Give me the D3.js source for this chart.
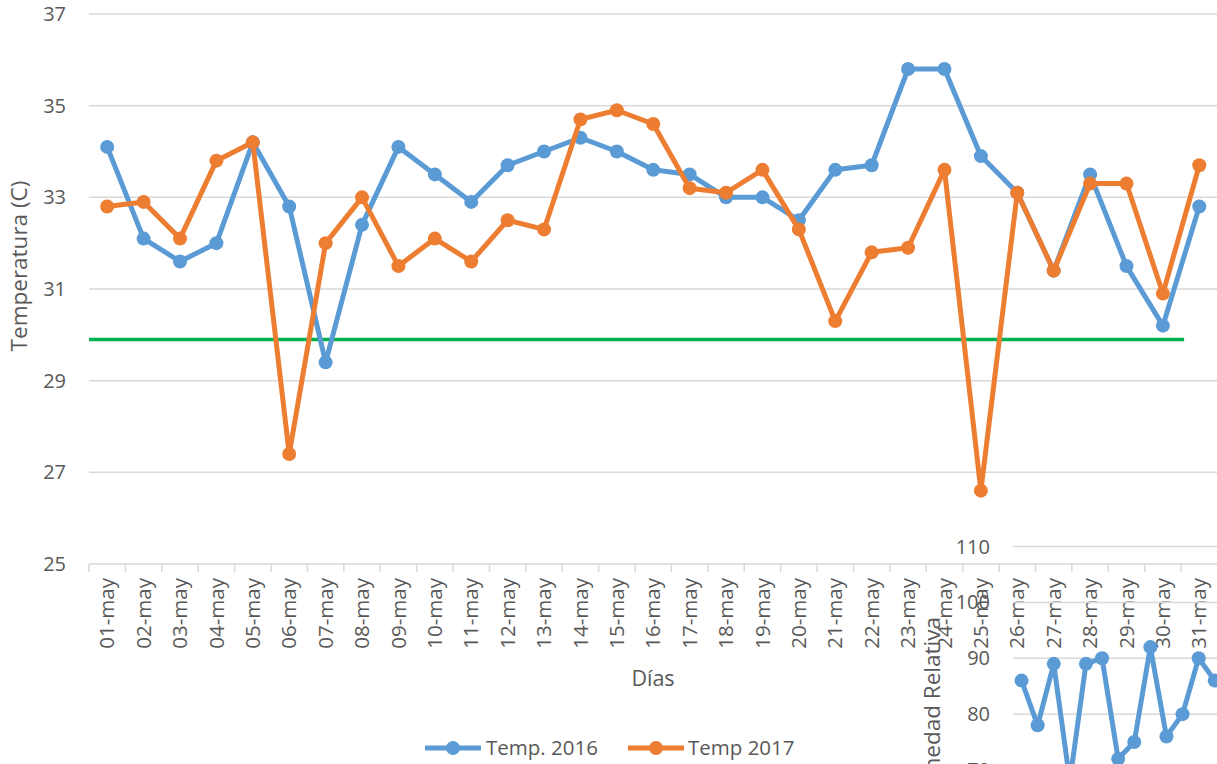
<!DOCTYPE html>
<html><head><meta charset="utf-8">
<script src="https://cdn.jsdelivr.net/npm/d3@7"></script>
<style>
html,body{margin:0;padding:0;background:#fff;}
svg{display:block;font-family:"Open Sans",sans-serif;}
</style></head>
<body><svg id="c" width="1217" height="764"></svg>
<script>
const days = ["01-may","02-may","03-may","04-may","05-may","06-may","07-may","08-may","09-may","10-may","11-may","12-may","13-may","14-may","15-may","16-may","17-may","18-may","19-may","20-may","21-may","22-may","23-may","24-may","25-may","26-may","27-may","28-may","29-may","30-may","31-may"];
const temp2016 = [34.1,32.1,31.6,32.0,34.2,32.8,29.4,32.4,34.1,33.5,32.9,33.7,34.0,34.3,34.0,33.6,33.5,33.0,33.0,32.5,33.6,33.7,35.8,35.8,33.9,33.1,31.4,33.5,31.5,30.2,32.8];
const temp2017 = [32.8,32.9,32.1,33.8,34.2,27.4,32.0,33.0,31.5,32.1,31.6,32.5,32.3,34.7,34.9,34.6,33.2,33.1,33.6,32.3,30.3,31.8,31.9,33.6,26.6,33.1,31.4,33.3,33.3,30.9,33.7];
const threshold = 29.9;
const yTicks = [25,27,29,31,33,35,37];
const seriesNames = ["Temp. 2016","Temp 2017"];
// overlapping fragment of a second chart (Humedad Relativa)
const humDays = days.slice(0,13);
const humidity = [86,78,89,68,89,90,72,75,92,76,80,90,86];
const humTicks = [70,80,90,100,110];

const colors = ["#5B9BD5","#ED7D31"];
const textCol = "#595959", gridCol = "#D9D9D9";
const svg = d3.select("#c");
svg.append("rect").attr("width",1217).attr("height",764).attr("fill","#fff");

const x = d3.scaleBand().domain(days).range([89,1217.5]).padding(0);
const y = d3.scaleLinear().domain([25,37]).range([564,14]);

// gridlines
svg.append("g").selectAll("line").data(yTicks.filter(d=>d>25)).join("line")
  .attr("x1",89).attr("x2",1217).attr("y1",d=>y(d)).attr("y2",d=>y(d))
  .attr("stroke",gridCol).attr("stroke-width",1.5);
// y labels
svg.append("g").selectAll("text").data(yTicks).join("text")
  .attr("x",66).attr("y",d=>y(d)).attr("dy","0.35em").attr("text-anchor","end")
  .attr("font-size",20).attr("fill",textCol).text(d=>d);
// x axis
svg.append("line").attr("x1",89).attr("x2",1217).attr("y1",564).attr("y2",564).attr("stroke",gridCol).attr("stroke-width",1.5);
svg.append("g").selectAll("line").data(days).join("line")
  .attr("x1",d=>x(d)).attr("x2",d=>x(d)).attr("y1",564).attr("y2",572)
  .attr("stroke",gridCol).attr("stroke-width",1.5);
svg.append("g").selectAll("text").data(days).join("text")
  .attr("transform",d=>`translate(${x(d)+x.bandwidth()/2},578) rotate(-90)`)
  .attr("dy","0.35em").attr("text-anchor","end").attr("font-size",20.5).attr("fill",textCol).text(d=>d);
// titles
svg.append("text").attr("transform","translate(27,266) rotate(-90)").attr("text-anchor","middle")
  .attr("font-size",22.5).attr("fill",textCol).text("Temperatura (C)");
svg.append("text").attr("x",653).attr("y",686).attr("text-anchor","middle")
  .attr("font-size",21.5).attr("fill",textCol).text("Días");

// threshold line
svg.append("line").attr("x1",89).attr("x2",x("31-may")+3).attr("y1",y(threshold)).attr("y2",y(threshold))
  .attr("stroke","#00B050").attr("stroke-width",3.5);

// series
const line = d3.line().x((d,i)=>x(days[i])+x.bandwidth()/2).y(d=>y(d));
[temp2016,temp2017].forEach((s,k)=>{
  const g = svg.append("g");
  g.append("path").attr("d",line(s)).attr("fill","none").attr("stroke",colors[k]).attr("stroke-width",5).attr("stroke-linejoin","round");
  g.selectAll("circle").data(s).join("circle").attr("cx",(d,i)=>x(days[i])+x.bandwidth()/2).attr("cy",d=>y(d)).attr("r",7).attr("fill",colors[k]);
});

// legend
const leg = [{x0:425,text:486},{x0:628,text:688}];
leg.forEach((l,k)=>{
  svg.append("line").attr("x1",l.x0).attr("x2",l.x0+56).attr("y1",748).attr("y2",748).attr("stroke",colors[k]).attr("stroke-width",5);
  svg.append("circle").attr("cx",l.x0+28).attr("cy",748).attr("r",7).attr("fill",colors[k]);
  svg.append("text").attr("x",l.text).attr("y",748).attr("dy","0.35em").attr("font-size",20.5).attr("fill",textCol).text(seriesNames[k]);
});

// overlapping humidity chart fragment
const hx = d3.scaleBand().domain(humDays).range([1013.5,1013.5+16.1*13]).padding(0);
const hy = d3.scaleLinear().domain([70,110]).range([770,546.5]);
const hg = svg.append("g");
hg.selectAll("line").data(humTicks).join("line")
  .attr("x1",1013).attr("x2",1217).attr("y1",d=>hy(d)).attr("y2",d=>hy(d)).attr("stroke",gridCol).attr("stroke-width",1.5);
hg.selectAll("text.t").data(humTicks).join("text").attr("class","t")
  .attr("x",990).attr("y",d=>hy(d)).attr("dy","0.35em").attr("text-anchor","end")
  .attr("font-size",20).attr("fill",textCol).text(d=>d);
hg.append("text").attr("transform","translate(932,617) rotate(-90)").attr("dy","0.35em").attr("text-anchor","end")
  .attr("font-size",22.5).attr("fill",textCol).text("Humedad Relativa");
const hline = d3.line().x((d,i)=>hx(humDays[i])+hx.bandwidth()/2).y(d=>hy(d));
hg.append("path").attr("d",hline(humidity)).attr("fill","none").attr("stroke",colors[0]).attr("stroke-width",5).attr("stroke-linejoin","round");
hg.selectAll("circle").data(humidity).join("circle").attr("cx",(d,i)=>hx(humDays[i])+hx.bandwidth()/2).attr("cy",d=>hy(d)).attr("r",7).attr("fill",colors[0]);
</script></body></html>
